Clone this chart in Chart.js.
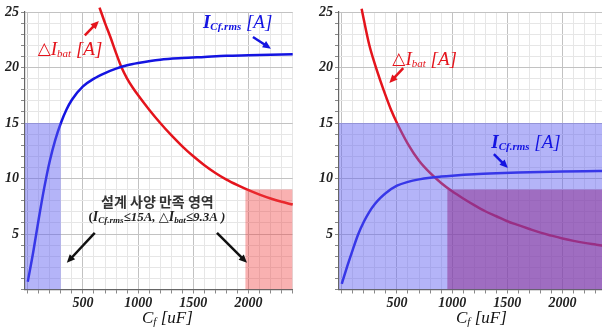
<!DOCTYPE html>
<html>
<head>
<meta charset="utf-8">
<script src="https://cdn.jsdelivr.net/npm/chart.js@4.4.1/dist/chart.umd.min.js"></script>
<style>
  html, body { margin: 0; padding: 0; background: #fff; overflow: hidden; width: 602px; height: 331px; }
  canvas { position: absolute; top: 0; }
  #left { left: 0; }
  #right { left: 314px; }
</style>
</head>
<body>
<canvas id="left" width="296" height="331"></canvas>
<canvas id="right" width="296" height="331"></canvas>
<script>
// capacitance Cf [uF] for the I_Cf.rms curves
const capRms = [0, 50, 100, 150, 200, 250, 300, 350, 400, 500, 600, 700, 800, 900, 1000, 1200, 1400, 1600, 1800, 2000, 2200, 2400];
const iCfRmsLeft = [0.7, 3.4, 6.4, 9.2, 11.6, 13.5, 15.0, 16.2, 17.1, 18.3, 19.0, 19.5, 19.9, 20.2, 20.4, 20.7, 20.85, 20.95, 21.05, 21.1, 21.15, 21.2];
const iCfRmsRight = [0.5, 2.1, 3.6, 5.0, 6.1, 7.0, 7.7, 8.25, 8.7, 9.35, 9.7, 9.92, 10.07, 10.17, 10.25, 10.38, 10.47, 10.54, 10.59, 10.63, 10.66, 10.68];

// delta I_bat curves
const capBatLeft = [650, 700, 750, 800, 850, 900, 950, 1000, 1100, 1200, 1300, 1400, 1500, 1600, 1700, 1800, 1900, 2000, 2100, 2200, 2300, 2400];
const dIbatLeft = [25.4, 24.0, 22.7, 21.3, 20.0, 19.0, 18.2, 17.5, 16.2, 15.0, 13.9, 12.9, 12.0, 11.2, 10.5, 9.9, 9.4, 8.95, 8.55, 8.2, 7.9, 7.65];
const capBatRight = [180, 200, 250, 300, 350, 400, 450, 500, 600, 700, 800, 900, 1000, 1100, 1200, 1300, 1400, 1500, 1600, 1700, 1800, 1900, 2000, 2100, 2200, 2300, 2400];
const dIbatRight = [25.3, 24.3, 22.0, 20.3, 18.8, 17.4, 16.1, 15.0, 13.1, 11.6, 10.5, 9.6, 8.85, 8.2, 7.6, 7.05, 6.6, 6.15, 5.8, 5.45, 5.12, 4.85, 4.6, 4.38, 4.2, 4.05, 3.9];

// design regions (limits in A, ranges in uF)
const rmsLimit = 15;
const batLimit = 9;
const leftRmsRange = [-25, 300];
const leftBatRange = [1970, 2400];
const rightRmsRange = [-25, 2400];
const rightBatRange = [955, 2400];

const xTickLabels = [500, 1000, 1500, 2000];
const yTickLabels = [5, 10, 15, 20, 25];
const xMin = -25, xMax = 2400;

const serif = '"Liberation Serif", "Times New Roman", "DejaVu Serif", serif';
const RED = 'rgb(228,20,28)';
const BLUE = 'rgb(20,20,225)';

const pts = (xs, ys) => xs.map((x, i) => ({ x: x, y: ys[i] }));

function box(range, top, color) {
  return {
    data: [{ x: range[0], y: top }, { x: range[1], y: top }],
    fill: 'origin', backgroundColor: color, borderWidth: 0, pointRadius: 0
  };
}

function curve(xs, ys, color) {
  return {
    data: pts(xs, ys), borderColor: color, borderWidth: 2.5, pointRadius: 0,
    cubicInterpolationMode: 'monotone', fill: false, clip: false
  };
}

function drawRich(ctx, parts, x, y, color, align) {
  let w = 0;
  parts.forEach(p => { ctx.font = p.f; w += ctx.measureText(p.t).width; });
  let cx = align === 'center' ? x - w / 2 : x;
  ctx.fillStyle = color;
  ctx.textBaseline = 'middle';
  parts.forEach(p => {
    ctx.font = p.f;
    ctx.fillText(p.t, cx, y + (p.dy || 0));
    cx += ctx.measureText(p.t).width;
  });
}

function drawArrow(ctx, x1, y1, x2, y2, color) {
  const ang = Math.atan2(y2 - y1, x2 - x1), h = 9;
  ctx.strokeStyle = color;
  ctx.fillStyle = color;
  ctx.lineWidth = 2.5;
  ctx.beginPath();
  ctx.moveTo(x1, y1);
  ctx.lineTo(x2 - h * 0.7 * Math.cos(ang), y2 - h * 0.7 * Math.sin(ang));
  ctx.stroke();
  ctx.beginPath();
  ctx.moveTo(x2, y2);
  ctx.lineTo(x2 - h * Math.cos(ang - 0.42), y2 - h * Math.sin(ang - 0.42));
  ctx.lineTo(x2 - h * Math.cos(ang + 0.42), y2 - h * Math.sin(ang + 0.42));
  ctx.closePath();
  ctx.fill();
}

// label pieces
const batLabel = [
  { t: '△', f: '17px ' + serif },
  { t: 'I', f: 'italic 19px ' + serif },
  { t: 'bat', f: 'italic 11px ' + serif, dy: 4 },
  { t: ' [A]', f: 'italic 19px ' + serif }
];
const rmsLabel = [
  { t: 'I', f: 'italic bold 19px ' + serif },
  { t: 'Cf.rms', f: 'italic bold 11px ' + serif, dy: 4 },
  { t: ' [A]', f: 'italic 19px ' + serif }
];
const axisTitle = [
  { t: 'C', f: 'italic 17px ' + serif },
  { t: 'f', f: 'italic 11px ' + serif, dy: 4 },
  { t: ' [uF]', f: 'italic 17px ' + serif }
];

const notes = {
  id: 'notes',
  afterDatasetsDraw(chart, args, opts) {
    const { ctx, chartArea } = chart;
    const x = chart.scales.x, y = chart.scales.y;
    ctx.save();
    (opts.arrows || []).forEach(a => drawArrow(ctx,
      x.getPixelForValue(a.from[0]), y.getPixelForValue(a.from[1]),
      x.getPixelForValue(a.to[0]), y.getPixelForValue(a.to[1]), a.color));
    (opts.texts || []).forEach(t => drawRich(ctx, t.parts,
      x.getPixelForValue(t.at[0]), y.getPixelForValue(t.at[1]), t.color, t.align));
    drawRich(ctx, axisTitle, x.getPixelForValue(1265), chartArea.bottom + 29, '#111', 'center');
    ctx.restore();
  }
};

function scales() {
  const tickFont = { family: serif, size: 14, style: 'italic', weight: 'bold' };
  return {
    x: {
      type: 'linear', min: xMin, max: xMax,
      afterBuildTicks: s => { s.ticks = []; for (let v = 0; v <= xMax; v += 100) s.ticks.push({ value: v }); },
      afterFit: s => { s.height = 41.5; },
      ticks: { autoSkip: false, maxRotation: 0, font: tickFont, color: '#222', padding: 1,
               callback: v => xTickLabels.includes(v) ? String(v) : '' },
      grid: { color: c => c.tick && c.tick.value % 500 === 0 ? '#c2c2c2' : '#e6e6e6',
              tickColor: '#888', tickLength: 4 },
      border: { color: '#666', width: 1.2 }
    },
    y: {
      type: 'linear', min: 0, max: 25,
      afterBuildTicks: s => { s.ticks = []; for (let v = 0; v <= 25; v += 1) s.ticks.push({ value: v }); },
      afterFit: s => { s.width = 25; },
      ticks: { autoSkip: false, font: tickFont, color: '#222', padding: 2,
               callback: v => yTickLabels.includes(v) ? String(v) : '' },
      grid: { color: c => c.tick && c.tick.value % 5 === 0 ? '#c2c2c2' : '#e6e6e6',
              tickColor: '#888', tickLength: 4 },
      border: { color: '#666', width: 1.2 }
    }
  };
}

function baseOptions(noteOpts) {
  return {
    responsive: false,
    animation: false,
    layout: { padding: { top: 12, right: 3.3, left: 0, bottom: 0 } },
    plugins: { legend: { display: false }, tooltip: { enabled: false }, notes: noteOpts },
    scales: scales()
  };
}

new Chart(document.getElementById('left'), {
  type: 'line',
  data: {
    datasets: [
      box(leftRmsRange, rmsLimit, 'rgba(95,95,240,0.47)'),
      box(leftBatRange, batLimit, 'rgba(240,70,70,0.42)'),
      curve(capRms, iCfRmsLeft, BLUE),
      curve(capBatLeft, dIbatLeft, RED)
    ]
  },
  options: baseOptions({
    texts: [
      { parts: batLabel, at: [90, 21.6], color: RED, align: 'left' },
      { parts: rmsLabel, at: [1587, 24.0], color: BLUE, align: 'left' },
      { parts: [{ t: '설계 사양 만족 영역', f: 'bold 14px "Noto Sans CJK KR", sans-serif' }], at: [1174, 7.9], color: '#333', align: 'center' },
      { parts: [
          { t: '(', f: 'bold 13px ' + serif },
          { t: 'I', f: 'italic bold 14px ' + serif },
          { t: 'Cf.rms', f: 'italic bold 9px ' + serif, dy: 3 },
          { t: '≤15A, △', f: 'italic bold 13px ' + serif },
          { t: 'I', f: 'italic bold 14px ' + serif },
          { t: 'bat', f: 'italic bold 9px ' + serif, dy: 3 },
          { t: '≤9.3A )', f: 'italic bold 13px ' + serif }
        ], at: [1170, 6.5], color: '#222', align: 'center' }
    ],
    arrows: [
      { from: [517, 22.9], to: [644, 24.2], color: RED },
      { from: [2040, 22.75], to: [2203, 21.7], color: BLUE },
      { from: [607, 5.1], to: [354, 2.4], color: '#111' },
      { from: [1714, 5.1], to: [1986, 2.4], color: '#111' }
    ]
  }),
  plugins: [notes]
});

new Chart(document.getElementById('right'), {
  type: 'line',
  data: {
    datasets: [
      box(rightBatRange, batLimit, 'rgba(140,40,140,0.5)'),
      box(rightRmsRange, rmsLimit, 'rgba(95,95,240,0.47)'),
      curve(capRms, iCfRmsRight, BLUE),
      curve(capBatRight, dIbatRight, RED)
    ]
  },
  options: baseOptions({
    texts: [
      { parts: batLabel, at: [458, 20.7], color: RED, align: 'left' },
      { parts: rmsLabel, at: [1355, 13.2], color: BLUE, align: 'left' }
    ],
    arrows: [
      { from: [557, 19.95], to: [431, 18.6], color: RED },
      { from: [1378, 12.2], to: [1505, 10.95], color: BLUE }
    ]
  }),
  plugins: [notes]
});
</script>
</body>
</html>
